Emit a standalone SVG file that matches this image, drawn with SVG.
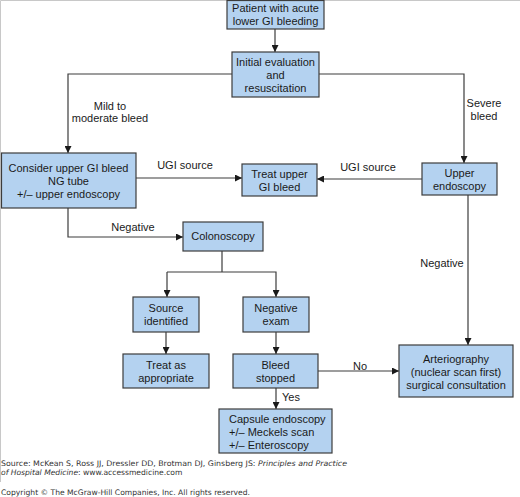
<svg xmlns="http://www.w3.org/2000/svg" width="520" height="497" viewBox="0 0 520 497">
<defs>
<style>
.box{fill:#b4d2f0;stroke:#3c3c3c;stroke-width:1.2}
.t{font-family:"Liberation Sans",Arial,sans-serif;font-size:11px;fill:#1a1a1a;text-anchor:middle}
.s{font-family:"Liberation Sans",Arial,sans-serif;font-size:11px;fill:#1a1a1a;text-anchor:start}
.l{font-family:"Liberation Sans",Arial,sans-serif;font-size:11px;fill:#1a1a1a;text-anchor:middle}
.c{fill:none;stroke:#3c3c3c;stroke-width:1.2}
.src{font-family:"DejaVu Sans",Verdana,sans-serif;font-size:7.6px;fill:#333}
</style>
<marker id="ah" viewBox="0 0 10 10" refX="10" refY="5" markerWidth="7" markerHeight="7" markerUnits="userSpaceOnUse" orient="auto">
<path d="M0,0 L10,5 L0,10 z" fill="#1a1a1a"/>
</marker>
</defs>
<rect width="520" height="497" fill="#fff"/>
<path d="M0.5,482 V0.5 H520" fill="none" stroke="#c8c8c8" stroke-width="1"/>

<g id="connectors">
<path class="c" d="M275,29 V52" marker-end="url(#ah)"/>
<path class="c" d="M232,74 H68 V153" marker-end="url(#ah)"/>
<path class="c" d="M319,74 H464 V163" marker-end="url(#ah)"/>
<path class="c" d="M136,178 H242" marker-end="url(#ah)"/>
<path class="c" d="M422,179 H317" marker-end="url(#ah)"/>
<path class="c" d="M468,195 V345" marker-end="url(#ah)"/>
<path class="c" d="M68,208 V237 H183" marker-end="url(#ah)"/>
<path class="c" d="M222,251 V272"/>
<path class="c" d="M167,272 H276 V297" marker-end="url(#ah)"/>
<path class="c" d="M167,272 V297" marker-end="url(#ah)"/>
<path class="c" d="M166,332 V354" marker-end="url(#ah)"/>
<path class="c" d="M276,332 V354" marker-end="url(#ah)"/>
<path class="c" d="M318,371 H399" marker-end="url(#ah)"/>
<path class="c" d="M276,388 V409" marker-end="url(#ah)"/>
<text class="l" x="110" y="110">Mild to</text>
<text class="l" x="110" y="122">moderate bleed</text>
<text class="l" x="484" y="107">Severe</text>
<text class="l" x="484" y="120">bleed</text>
<text class="l" x="185" y="169">UGI source</text>
<text class="l" x="368" y="171">UGI source</text>
<text class="l" x="133" y="231">Negative</text>
<text class="l" x="442" y="267">Negative</text>
<text class="l" x="360" y="370">No</text>
<text class="l" x="291" y="401">Yes</text>
</g>

<g id="n1"><rect class="box" x="227" y="0.5" width="97" height="28.5"/>
<text class="t" x="275.5" y="12">Patient with acute</text>
<text class="t" x="275.5" y="25">lower GI bleeding</text></g>

<g id="n2"><rect class="box" x="232" y="52" width="87" height="45"/>
<text class="t" x="275.5" y="66">Initial evaluation</text>
<text class="t" x="275.5" y="79">and</text>
<text class="t" x="275.5" y="92">resuscitation</text></g>

<g id="n3"><rect class="box" x="1.5" y="153" width="134.5" height="55"/>
<text class="t" x="68.5" y="172">Consider upper GI bleed</text>
<text class="t" x="68.5" y="185">NG tube</text>
<text class="t" x="68.5" y="198">+/– upper endoscopy</text></g>

<g id="n4"><rect class="box" x="242" y="164" width="75" height="32"/>
<text class="t" x="279.5" y="178">Treat upper</text>
<text class="t" x="279.5" y="191">GI bleed</text></g>

<g id="n5"><rect class="box" x="422" y="163" width="75" height="32"/>
<text class="t" x="459.5" y="177">Upper</text>
<text class="t" x="459.5" y="190">endoscopy</text></g>

<g id="n6"><rect class="box" x="183" y="222" width="80" height="29"/>
<text class="t" x="223" y="240">Colonoscopy</text></g>

<g id="n7"><rect class="box" x="133" y="297" width="66" height="35"/>
<text class="t" x="166" y="312">Source</text>
<text class="t" x="166" y="325">identified</text></g>

<g id="n8"><rect class="box" x="243" y="297" width="66" height="35"/>
<text class="t" x="276" y="312">Negative</text>
<text class="t" x="276" y="325">exam</text></g>

<g id="n9"><rect class="box" x="123" y="354" width="86" height="34"/>
<text class="t" x="166" y="369">Treat as</text>
<text class="t" x="166" y="382">appropriate</text></g>

<g id="n10"><rect class="box" x="233" y="354" width="85" height="34"/>
<text class="t" x="275.5" y="369">Bleed</text>
<text class="t" x="275.5" y="382">stopped</text></g>

<g id="n11"><rect class="box" x="399" y="345" width="114" height="52"/>
<text class="t" x="456" y="363">Arteriography</text>
<text class="t" x="456" y="376">(nuclear scan first)</text>
<text class="t" x="456" y="389">surgical consultation</text></g>

<g id="n12"><rect class="box" x="219" y="409" width="113" height="44"/>
<text class="s" x="229" y="423">Capsule endoscopy</text>
<text class="s" x="229" y="436">+/– Meckels scan</text>
<text class="s" x="229" y="449">+/– Enteroscopy</text></g>

<g id="footer">
<text class="src" x="1" y="466" textLength="346" lengthAdjust="spacingAndGlyphs">Source: McKean S, Ross JJ, Dressler DD, Brotman DJ, Ginsberg JS: <tspan font-style="italic">Principles and Practice</tspan></text>
<text class="src" x="1" y="475"><tspan font-style="italic">of Hospital Medicine</tspan>: www.accessmedicine.com</text>
<text class="src" x="1" y="495">Copyright © The McGraw-Hill Companies, Inc. All rights reserved.</text>
</g>
</svg>
